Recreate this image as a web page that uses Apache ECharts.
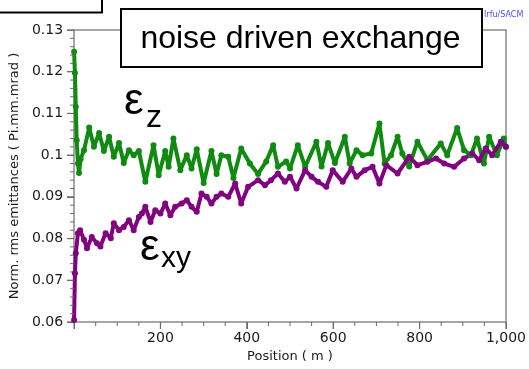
<!DOCTYPE html>
<html>
<head>
<meta charset="utf-8">
<script src="https://cdn.jsdelivr.net/npm/echarts@6/dist/echarts.min.js"></script>
<style>html,body{margin:0;padding:0;background:#fff}#c{width:529px;height:369px}</style>
</head>
<body>
<div id="c"></div>
<script>
var xTicks = [0, 200, 400, 600, 800, 1000];
var yTicks = [0.06, 0.07, 0.08, 0.09, 0.1, 0.11, 0.12, 0.13];

var posZ = [0, 2, 4, 6, 9, 11.5, 15, 23, 35, 46, 58, 69, 81, 92, 104, 115, 127, 138, 150, 165, 184, 196, 211, 219, 230, 246, 261, 272, 284, 300, 318, 330, 341, 357, 369, 387, 407, 426, 445, 461, 472, 491, 500, 518, 535, 561, 573, 588, 604, 627, 638, 654, 668, 688, 707, 719, 734, 749, 760, 776, 795, 818, 849, 864, 887, 903, 919, 933, 949, 961, 979, 995, 1000];
var epsZ = [0.1248, 0.1197, 0.1116, 0.1036, 0.098, 0.0957, 0.0990, 0.1012, 0.1066, 0.102, 0.1053, 0.101, 0.1044, 0.0996, 0.1029, 0.0981, 0.1012, 0.1, 0.101, 0.0936, 0.1024, 0.0952, 0.101, 0.0972, 0.104, 0.0964, 0.1, 0.0968, 0.1014, 0.0933, 0.101, 0.0955, 0.1, 0.0996, 0.0945, 0.1016, 0.098, 0.0955, 0.0985, 0.1024, 0.0972, 0.0985, 0.0968, 0.1024, 0.0972, 0.1032, 0.0973, 0.1029, 0.0981, 0.1044, 0.098, 0.1012, 0.1, 0.1004, 0.1076, 0.098, 0.1000, 0.1044, 0.1004, 0.0973, 0.1032, 0.0988, 0.1028, 0.1, 0.1065, 0.1012, 0.1, 0.104, 0.098, 0.1044, 0.1, 0.104, 0.102];

var posXY = [0, 2, 4, 9, 14, 23, 30, 41, 53, 61, 73, 85, 92, 104, 115, 127, 138, 150, 157, 165, 177, 188, 200, 211, 223, 234, 249, 261, 272, 284, 295, 307, 318, 330, 341, 357, 373, 387, 403, 426, 442, 456, 472, 488, 500, 515, 535, 550, 565, 584, 599, 622, 642, 654, 673, 691, 707, 723, 749, 776, 795, 818, 838, 857, 880, 903, 922, 938, 953, 968, 988, 1000];
var epsXY = [0.0605, 0.0717, 0.0765, 0.0813, 0.082, 0.0797, 0.0777, 0.0804, 0.0789, 0.0781, 0.0813, 0.0801, 0.0837, 0.082, 0.0828, 0.0844, 0.082, 0.0852, 0.086, 0.0876, 0.084, 0.0868, 0.086, 0.0884, 0.0856, 0.0876, 0.0884, 0.0892, 0.0876, 0.0864, 0.0908, 0.09, 0.0884, 0.09, 0.0908, 0.09, 0.0932, 0.0884, 0.0924, 0.094, 0.0928, 0.094, 0.0956, 0.0936, 0.0948, 0.092, 0.0964, 0.0948, 0.0936, 0.0924, 0.0964, 0.0936, 0.0968, 0.0948, 0.0964, 0.0972, 0.0932, 0.0976, 0.0956, 0.0996, 0.0976, 0.0984, 0.0992, 0.098, 0.0972, 0.0992, 0.1004, 0.0988, 0.1016, 0.1, 0.1032, 0.102];

function zip(a, b) { return a.map(function (v, i) { return [v, b[i]]; }); }

var xMin = xTicks[0], xMax = xTicks[xTicks.length - 1];
var yMin = yTicks[0], yMax = yTicks[yTicks.length - 1];

// tick positions (major + minor), derived from the tick label arrays
var xMajorMarks = [], xMinorMarks = [], yMajorMarks = [], yMinorMarks = [];
for (var i = 0; i < xTicks.length; i++) {
  xMajorMarks.push([xTicks[i], yMin]);
  if (i < xTicks.length - 1) {
    for (var k = 1; k < 4; k++) xMinorMarks.push([xTicks[i] + (xTicks[i + 1] - xTicks[i]) * k / 4, yMin]);
  }
}
for (var j = 0; j < yTicks.length; j++) {
  yMajorMarks.push([xMin, yTicks[j]]);
  if (j < yTicks.length - 1) {
    for (var m = 1; m < 5; m++) yMinorMarks.push([xMin, yTicks[j] + (yTicks[j + 1] - yTicks[j]) * m / 5]);
  }
}

var chart = echarts.init(document.getElementById('c'), null, { renderer: 'canvas' });
var axisGray = '#8a8a8a';
var tickGray = '#6a6a6a';
var labelFont = { fontFamily: 'DejaVu Sans', fontSize: 14, color: '#1a1a1a' };

function tickSeries(data, size, offset) {
  return {
    type: 'line', xAxisIndex: 0, yAxisIndex: 0, data: data, silent: true, clip: false, z: 3,
    symbol: 'rect', symbolSize: size, symbolOffset: offset, showSymbol: true,
    lineStyle: { opacity: 0, width: 0 }, itemStyle: { color: tickGray },
    emphasis: { disabled: true }
  };
}

chart.setOption({
  animation: false,
  backgroundColor: '#fff',
  grid: { left: 72, top: 30, right: 22, bottom: 47, show: false },
  xAxis: [{
    type: 'value', position: 'bottom', min: xMin, max: xMax, interval: 200,
    name: 'Position ( m )', nameLocation: 'middle', nameGap: 26,
    nameTextStyle: { fontFamily: 'DejaVu Sans', fontSize: 13, color: '#1a1a1a' },
    axisLine: { show: true, onZero: false, lineStyle: { color: axisGray, width: 1.5 } },
    axisTick: { show: true, length: 7, lineStyle: { color: tickGray, width: 1 } },
    splitLine: { show: false },
    axisLabel: Object.assign({ show: true, margin: 9, formatter: function (v) { return v === 0 ? '' : v.toLocaleString('en-US'); } }, labelFont)
  }, {
    type: 'value', position: 'top', min: xMin, max: xMax, interval: 200,
    axisLine: { show: true, onZero: false, lineStyle: { color: axisGray, width: 1.5 } },
    axisTick: { show: false }, axisLabel: { show: false }, splitLine: { show: false }
  }],
  yAxis: [{
    type: 'value', position: 'left', min: yMin, max: yMax, interval: 0.01,
    name: 'Norm. rms emittances ( Pi.mm.mrad )', nameLocation: 'middle', nameGap: 47,
    nameTextStyle: { fontFamily: 'DejaVu Sans', fontSize: 13, color: '#1a1a1a' },
    axisLine: { show: true, onZero: false, lineStyle: { color: axisGray, width: 1.5 } },
    axisTick: { show: true, length: 7, lineStyle: { color: tickGray, width: 1 } },
    splitLine: { show: false },
    axisLabel: Object.assign({ show: true, margin: 11, formatter: function (v) { return String(+v.toFixed(2)); } }, labelFont)
  }, {
    type: 'value', position: 'right', min: yMin, max: yMax, interval: 0.01,
    axisLine: { show: true, onZero: false, lineStyle: { color: axisGray, width: 1.5 } },
    axisTick: { show: false }, axisLabel: { show: false }, splitLine: { show: false }
  }],
  series: [
    tickSeries(xMajorMarks, [1.2, 7], [0, '50%']),
    tickSeries(xMinorMarks, [1, 4], [0, '50%']),
    tickSeries(yMajorMarks, [7, 1.2], ['-50%', 0]),
    tickSeries(yMinorMarks, [4, 1], ['-50%', 0]),
    {
      type: 'line', xAxisIndex: 0, yAxisIndex: 0, data: zip(posZ, epsZ), symbol: 'circle', symbolSize: 6, showSymbol: true,
      lineStyle: { color: '#118a11', width: 4 }, itemStyle: { color: '#118a11' }
    },
    {
      type: 'line', xAxisIndex: 0, yAxisIndex: 0, data: zip(posXY, epsXY), symbol: 'circle', symbolSize: 6, showSymbol: true,
      lineStyle: { color: '#800080', width: 4 }, itemStyle: { color: '#800080' }
    }
  ],
  graphic: [
    { type: 'rect', shape: { x: -10, y: -10, width: 112, height: 22.5 }, style: { fill: '#fff', stroke: '#000', lineWidth: 2 }, z: 100 },
    { type: 'rect', shape: { x: 121, y: 9, width: 361, height: 58 }, style: { fill: '#fff', stroke: '#000', lineWidth: 2 }, z: 100 },
    { type: 'text', x: 300.5, y: 39, style: { text: 'noise driven exchange', font: '32px "Liberation Sans"', fill: '#000', align: 'center', verticalAlign: 'middle' }, z: 101 },
    { type: 'text', x: 484, y: 15, style: { text: 'Irfu/SACM', font: '8px "DejaVu Sans"', fill: '#4a4aff', align: 'left', verticalAlign: 'middle' }, z: 101 },
    { type: 'text', x: 124, y: 102, style: { text: 'ε', font: '44px "Liberation Sans"', fill: '#000', align: 'left', verticalAlign: 'middle' }, z: 101 },
    { type: 'text', x: 146, y: 118, style: { text: 'z', font: '32px "Liberation Sans"', fill: '#000', align: 'left', verticalAlign: 'middle' }, z: 101 },
    { type: 'text', x: 140, y: 248, style: { text: 'ε', font: '44px "Liberation Sans"', fill: '#000', align: 'left', verticalAlign: 'middle' }, z: 101 },
    { type: 'text', x: 161, y: 259, style: { text: 'xy', font: '30px "Liberation Sans"', fill: '#000', align: 'left', verticalAlign: 'middle' }, z: 101 }
  ]
});
</script>
</body>
</html>
